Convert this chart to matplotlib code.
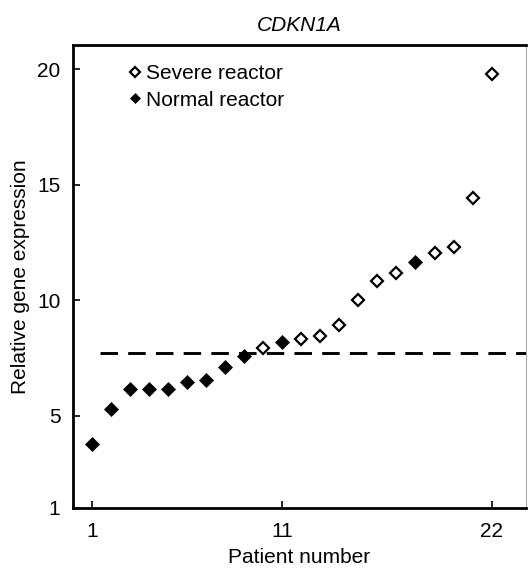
import matplotlib
matplotlib.use('Agg')
import numpy as np
import matplotlib.pyplot as plt

plt.rcParams['font.family'] = ['Liberation Sans', 'DejaVu Sans']

# patient number and relative expression
patient = np.arange(1, 23)
expression = [3.78, 5.29, 6.13, 6.13, 6.16, 6.45, 6.52, 7.1, 7.6, 7.94, 8.19,
              8.33, 8.45, 8.91, 10.0, 10.83, 11.16, 11.67, 12.06, 12.29, 14.42, 19.78]
severe = [10, 12, 13, 14, 15, 16, 17, 19, 20, 21, 22]
cutoff = 7.72
cutoff_start = 1.4  # dashed line starts a little right of patient 1

xticks = [1, 11, 22]
yticks = [1, 5, 10, 15, 20]

expression = np.array(expression)
is_severe = np.isin(patient, severe)

fig = plt.figure(figsize=(5.28, 5.70), dpi=100)
ax = fig.add_axes([0.138, 0.109, 0.858, 0.812])

ax.set_xlim(0, 23.8)
ax.set_ylim(1, 21.05)

ax.hlines(cutoff, cutoff_start, 23.8, color='black', lw=2.1,
          ls=(0, (6, 3.5)), zorder=1)
ax.plot(patient[is_severe], expression[is_severe], 'D', ms=6.3, mfc='white',
        mec='black', mew=1.6, ls='none', label='Severe reactor', zorder=3)
ax.plot(patient[~is_severe], expression[~is_severe], 'D', ms=7, mfc='black',
        mec='black', mew=0.5, ls='none', label='Normal reactor', zorder=3)

ax.set_xticks(xticks)
ax.set_yticks(yticks)
ax.tick_params(direction='in', length=5, width=1.2, labelsize=15)
ax.tick_params(axis='y', pad=9)
ax.tick_params(axis='x', pad=10)

for side in ['left', 'bottom', 'top']:
    ax.spines[side].set_linewidth(2)
ax.spines['right'].set_linewidth(0.6)
ax.spines['right'].set_color('#999999')

ax.set_xlabel('Patient number', fontsize=15, labelpad=5)
ax.set_ylabel('Relative gene expression', fontsize=15, labelpad=5)
ax.set_title('CDKN1A', fontsize=15, style='italic', pad=10)

ax.legend(loc='upper left', bbox_to_anchor=(0.088, 0.994), frameon=False,
          fontsize=15, handlelength=0.5, handletextpad=0.3, labelspacing=0.35,
          borderpad=0.3, markerscale=0.8)

fig.savefig('out.png', dpi=100)
